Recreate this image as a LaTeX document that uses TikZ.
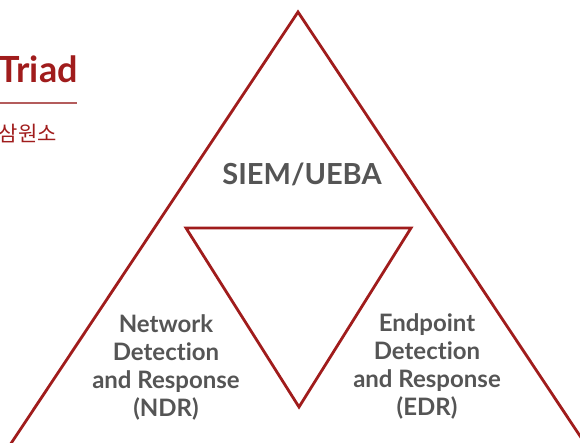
\documentclass[tikz,border=0pt]{standalone}
\usepackage{fontspec}
\setmainfont{Lato}[Ligatures={NoCommon,NoRare}]
\newfontfamily\krfont{Noto Sans CJK KR}
\usetikzlibrary{positioning}
\definecolor{triadred}{RGB}{160,28,28}
\definecolor{rulered}{RGB}{180,92,92}
\definecolor{labelgray}{RGB}{85,85,85}

\begin{document}
\begin{tikzpicture}[x=1pt, y=1pt]

% TikZ styles
\tikzset{
  edge/.style={draw=triadred, line width=2.8pt, line join=miter},
  areatext/.style={text=labelgray, font=\bfseries\fontsize{24}{28}\selectfont, align=center, inner sep=0pt},
  headtext/.style={text=triadred, inner sep=0pt}
};

\useasboundingbox (0,0) rectangle (580,-442);
\clip (0,0) rectangle (580,-442);

%==========================
% Titel links oben
%==========================
\node[headtext, font=\bfseries\fontsize{36}{40}\selectfont, anchor=base east] (title) at (78,-82) {Triad};
\coordinate (rulestart) at (0,-103);
\coordinate (ruleend) at (77,-103);
\draw[rulered, line width=1.6pt] (rulestart) -- (ruleend);
\node[headtext, font=\krfont\fontsize{21}{24}\selectfont, anchor=base east] (subtitle) at (57,-141) {삼원소};

%==========================
% Dreiecke
%==========================
\coordinate (apex) at (298,-12);
\coordinate (outerleft) at (0,-460);
\coordinate (outerright) at (596,-460);
\coordinate (innerleft) at (186,-228);
\coordinate (innerright) at (411,-228);
\coordinate (innerbottom) at (299,-407);

\draw[edge] (apex) -- (outerright) -- (outerleft) -- cycle;
\draw[edge] (innerleft) -- (innerright) -- (innerbottom) -- cycle;

% --- Beschriftungen ---
\node[areatext, font=\bfseries\fontsize{29}{32}\selectfont, anchor=base] (siem) at (302,-184) {SIEM/UEBA};
\node[areatext] (ndr) at (166,-367) {Network\\Detection\\and Response\\(NDR)};
\node[areatext] (edr) at (427,-366) {Endpoint\\Detection\\and Response\\(EDR)};

\end{tikzpicture}
\end{document}
